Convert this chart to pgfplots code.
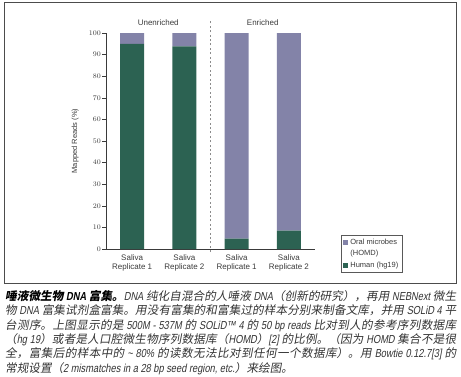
\documentclass[border=0pt]{standalone}
\usepackage{pgfplots}
\pgfplotsset{compat=1.18}
\usepackage{fontspec}
\setmainfont{Liberation Sans}
\newfontfamily\cjk[FakeSlant=0.18]{Noto Sans CJK SC}
\newfontfamily\latf[FakeSlant=0.18,FakeStretch=0.8]{Liberation Sans}
\newcommand{\la}[1]{{\latf #1}}
\definecolor{human}{HTML}{2C6252}
\definecolor{oral}{HTML}{8383A8}
\definecolor{txt}{HTML}{3A3A3A}
\begin{document}
\begin{tikzpicture}
\useasboundingbox (0pt,0pt) rectangle (461pt,376pt);
\draw[gray!60!black, line width=0.9pt] (4pt,92.5pt) rectangle (456.5pt,374pt);
\begin{axis}[
  at={(106pt,127pt)}, anchor=south west,
  scale only axis, width=209pt, height=216pt,
  xmin=-0.5, xmax=3.5, ymin=0, ymax=100,
  axis lines=left,
  axis line style={-, color=txt, line width=0.6pt},
  ybar stacked, bar width=24pt,
  xtick={0,1,2,3},
  xticklabels={{Saliva\\Replicate 1},{Saliva\\Replicate 2},{Saliva\\Replicate 1},{Saliva\\Replicate 2}},
  xticklabel style={align=center, font=\fontsize{8}{9.4}\selectfont, text=txt, inner sep=1.5pt},
  x tick style={draw=none},
  extra x ticks={-0.5,0.5,1.5,2.5,3.5},
  extra x tick labels={},
  extra x tick style={major tick length=3.5pt, tick align=outside, tick style={draw=txt, line width=0.6pt}},
  ytick={0,10,...,100},
  yticklabel style={font=\fontsize{7}{8}\selectfont, text=txt, inner sep=1pt},
  y tick style={draw=txt, line width=0.6pt},
  major tick length=4pt, tick align=outside,
  ylabel={Mapped Reads (\%)},
  ylabel style={font=\fontsize{7.5}{9}\selectfont, text=txt, at={(axis description cs:-0.148,0.5)}, anchor=center, rotate=0},
  clip=false,
  legend style={at={(1.124,-0.111)}, anchor=south west, draw=gray!70!black, line width=0.6pt,
    font=\fontsize{7.5}{9}\selectfont, text=txt, cells={anchor=west}, inner sep=2pt, row sep=0.5pt},
  legend image code/.code={\fill[#1] (0pt,-2.6pt) rectangle (5.2pt,2.6pt);},
]
\addlegendimage{fill=oral, draw=none}
\addlegendentry{Oral microbes}
\addlegendimage{empty legend}
\addlegendentry{(HOMD)}
\addplot[fill=human, draw=none] coordinates {(0,95) (1,93.8) (2,4.8) (3,8.5)};
\addlegendentry{Human (hg19)}
\addplot[fill=oral, draw=none, forget plot] coordinates {(0,5) (1,6.2) (2,95.2) (3,91.5)};
\draw[gray!90, dash pattern=on 2pt off 2.4pt, line width=1.1pt] (axis cs:1.5,-1.5) -- (axis cs:1.5,106);
\node[font=\fontsize{8}{9}\selectfont, text=txt] at (axis cs:0.5,104.6) {Unenriched};
\node[font=\fontsize{8}{9}\selectfont, text=txt] at (axis cs:2.5,104.6) {Enriched};
\end{axis}
\node[anchor=north west, text width=451pt, inner sep=0pt, align=justify, font=\cjk\fontsize{11.6}{14.4}\selectfont, text=black!80] at (5pt,86pt) {%
\XeTeXlinebreaklocale "zh"\XeTeXlinebreakskip=0pt plus 1.5pt\relax
{\bfseries\color{black} 唾液微生物 \la{DNA} 富集。}\la{DNA} 纯化自混合的人唾液 \la{DNA}（创新的研究），再用 \la{NEBNext} 微生\linebreak
物 \la{DNA} 富集试剂盒富集。用没有富集的和富集过的样本分别来制备文库，并用 \la{SOLiD 4} 平\linebreak
台测序。上图显示的是 \la{500M - 537M} 的 \la{SOLiD™ 4} 的 \la{50 bp reads} 比对到人的参考序列数据库\linebreak
（\la{hg 19}）或者是人口腔微生物序列数据库（\la{HOMD}）\la{[2]} 的比例。（因为 \la{HOMD} 集合不是很\linebreak
全，富集后的样本中的 \la{\textasciitilde{} 80\%} 的读数无法比对到任何一个数据库）。用 \la{Bowtie 0.12.7[3]} 的\linebreak
常规设置（\la{2 mismatches in a 28 bp seed region, etc.}）来绘图。};
\end{tikzpicture}
\end{document}
